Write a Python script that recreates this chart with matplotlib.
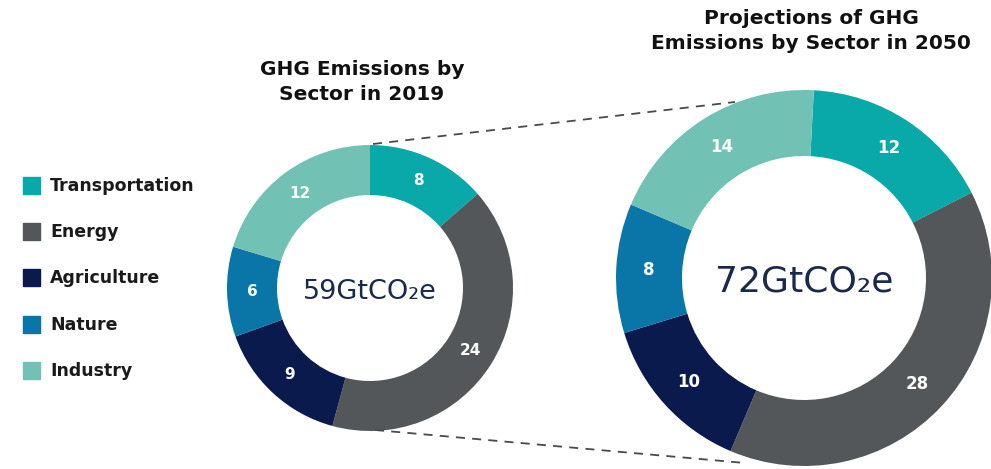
import matplotlib.pyplot as plt
from matplotlib.patches import Rectangle

plt.rcParams['font.family'] = ['DejaVu Sans']

# ── DATA ─────────────────────────────────────────────────────
sectors = ['Transportation', 'Energy', 'Agriculture', 'Nature', 'Industry']
emis_2019 = [8, 24, 9, 6, 12]
emis_2050 = [12, 28, 10, 8, 14]
totals = ['59GtCO\u2082e', '72GtCO\u2082e']

colors = ['#0AA9A9', '#545759', '#0B1A4D', '#0A76A8', '#71C1B4']
NAVY = '#1B2A4A'

W, H = 991, 469
fig = plt.figure(figsize=(W / 100, H / 100), dpi=100)
ax = fig.add_axes([0, 0, 1, 1])
ax.axis('off')


def donut(vals, cx, cy, r, inner, start, fs_lab, total, fs_tot):
    tot = sum(vals)
    ax.pie(vals, colors=colors, center=(cx, cy), radius=r,
           startangle=start, counterclock=False,
           wedgeprops=dict(width=r - inner, edgecolor='none'),
           autopct=lambda p: f'{p * tot / 100:.0f}',
           pctdistance=(r + inner) / 2 / r,
           textprops=dict(color='white', fontsize=fs_lab, fontweight='bold'))
    ax.text(cx, cy - 4, total, ha='center', va='center', color=NAVY,
            fontsize=fs_tot)


donut(emis_2019, 370, H - 288, 143, 93, 90, 11, totals[0], 19.5)
donut(emis_2050, 804, H - 278, 188, 122, 87, 12, totals[1], 26)
ax.set_xlim(0, W)
ax.set_ylim(0, H)
ax.set_aspect('equal')

# dashed connectors
ax.plot([373, 735], [H - 144, H - 102], ls=(0, (5, 4)), color='#4a4a4a', lw=1.3)
ax.plot([375, 745], [H - 430, H - 463], ls=(0, (5, 4)), color='#4a4a4a', lw=1.3)

# titles
ax.text(362, H - 82, 'GHG Emissions by\nSector in 2019', ha='center', va='center',
        fontsize=14.5, fontweight='bold', linespacing=1.45, color='#111111')
ax.text(811, H - 31, 'Projections of GHG\nEmissions by Sector in 2050', ha='center',
        va='center', fontsize=14.5, fontweight='bold', linespacing=1.45, color='#111111')

# legend
for i, (name, c) in enumerate(zip(sectors, colors)):
    y = H - (186 + i * 46.2)
    ax.add_patch(Rectangle((23, y - 8), 17, 17, color=c))
    ax.text(50, y, name, ha='left', va='center', fontsize=12.5,
            fontweight='bold', color='#1a1a1a')

fig.savefig('out.png', dpi=100)
